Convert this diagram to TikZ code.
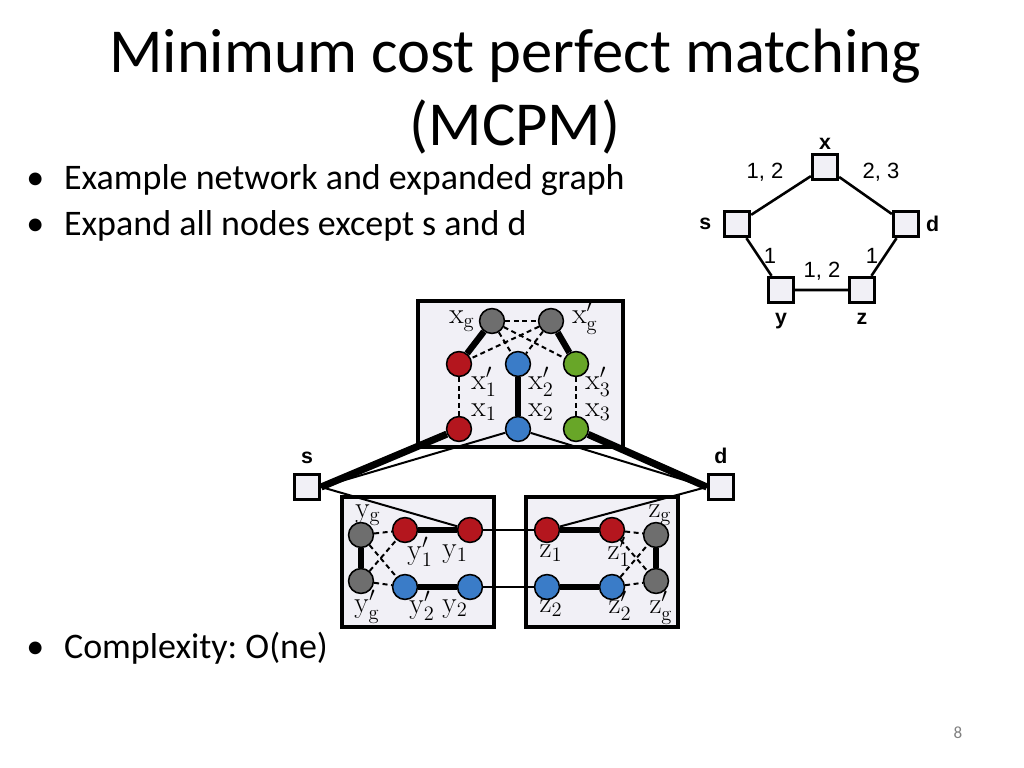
\documentclass[tikz,border=0pt]{standalone}
\usepackage[no-math]{fontspec}
\setmainfont{Carlito}
\newfontfamily\netfont{Liberation Sans}
\usepackage{amsmath}
\usetikzlibrary{positioning}
\frenchspacing
\definecolor{boxfill}{RGB}{241,240,246}
\definecolor{nodered}{RGB}{180,22,30}
\definecolor{nodeblue}{RGB}{58,124,200}
\definecolor{nodegreen}{RGB}{104,166,40}
\definecolor{nodegray}{RGB}{110,110,110}
\tikzstyle{vertex} = [circle, draw=black, line width=1.1pt, minimum size=17.5pt, inner sep=0pt]
\tikzstyle{red} = [vertex, fill=nodered]
\tikzstyle{blue} = [vertex, fill=nodeblue]
\tikzstyle{green} = [vertex, fill=nodegreen]
\tikzstyle{gray} = [vertex, fill=nodegray]
\tikzstyle{hub} = [rectangle, draw=black, line width=1.9pt, fill=boxfill, minimum size=18pt, inner sep=0pt]
\tikzstyle{cluster} = [draw=black, line width=2.2pt, fill=boxfill]
\tikzstyle{heavy} = [line width=4.5pt]
\tikzstyle{light} = [line width=1.4pt]
\tikzstyle{match} = [line width=1.4pt, dash pattern=on 3.5pt off 2.5pt]
\tikzstyle{lab} = [inner sep=0pt, text height=8pt, text depth=2pt, font=\fontsize{20}{23}\selectfont]
\tikzstyle{netlab} = [inner sep=0pt, font=\netfont\fontsize{15.5}{17}\selectfont]
\tikzstyle{netname} = [netlab, font=\netfont\bfseries\fontsize{15}{17}\selectfont]
\tikzstyle{bullet} = [anchor=base west, inner sep=0pt, font=\fontsize{25.3}{29}\selectfont]

\begin{document}
\begin{tikzpicture}[x=0.703125pt, y=-0.703125pt, node distance = 2pt]
	\useasboundingbox (0,0) rectangle (1024,768);
	% title and bullets
	\node (TitleA) [anchor=base, inner sep=0pt, font=\fontsize{44}{50}\selectfont] at (515,73) {Minimum cost perfect matching};
	\node (TitleB) [anchor=base, inner sep=0pt, font=\fontsize{44}{50}\selectfont] at (515,146) {(MCPM)};
	\node (ItemA) [bullet] at (26,190) {\char"2022\hspace{14pt}Example network and expanded graph};
	\node (ItemB) [bullet] at (26,236) {\char"2022\hspace{14pt}Expand all nodes except s and d};
	\node (ItemC) [bullet] at (26,658) {\char"2022\hspace{14pt}Complexity: O(ne)};
	\node (PageNum) [inner sep=0pt, text=gray, font=\fontsize{12}{14}\selectfont] at (958,733) {8};

	% example network
	\node (NetX) [hub] at (825,167) {};
	\node (NetS) [hub] at (737,224) {};
	\node (NetD) [hub] at (906,224) {};
	\node (NetY) [hub] at (781,290) {};
	\node (NetZ) [hub] at (862,290) {};
	\node [netname, above = 2pt of NetX] {x};
	\node [netname, left = 8pt of NetS] {s};
	\node [netname, right = 4pt of NetD] {d};
	\node [netname, below = 6pt of NetY] {y};
	\node [netname, below = 6pt of NetZ] {z};
	\draw [line width=1.8pt] (NetS) -- (NetX) -- (NetD) -- (NetZ) -- (NetY) -- (NetS);
	\node [netlab] at (765,172) {1, 2};
	\node [netlab] at (881,172) {2, 3};
	\node [netlab] at (770,256) {1};
	\node [netlab] at (872,256) {1};
	\node [netlab] at (822,271) {1, 2};

	% expanded graph
	\draw [cluster] (418,301) rectangle (623,447);
	\draw [cluster] (342,497) rectangle (494,627);
	\draw [cluster] (526,497) rectangle (678,627);
	\node (S) [hub] at (307,487) {};
	\node (D) [hub] at (721,487) {};
	\node [netname, above = 6pt of S] {s};
	\node [netname, above = 6pt of D] {d};

	\node (Xg) [gray] at (492,321) {};
	\node (Xgp) [gray] at (551,321) {};
	\node (XOnep) [red] at (459,364) {};
	\node (XTwop) [blue] at (518,364) {};
	\node (XThreep) [green] at (576,364) {};
	\node (XOne) [red] at (459,429) {};
	\node (XTwo) [blue] at (518,429) {};
	\node (XThree) [green] at (576,429) {};

	\node (Yg) [gray] at (361,535) {};
	\node (Ygp) [gray] at (361,581) {};
	\node (YOnep) [red] at (405,530) {};
	\node (YOne) [red] at (470,530) {};
	\node (YTwop) [blue] at (405,587) {};
	\node (YTwo) [blue] at (470,587) {};

	\node (ZOne) [red] at (547,530) {};
	\node (ZOnep) [red] at (612,530) {};
	\node (Zg) [gray] at (656,535) {};
	\node (ZTwo) [blue] at (547,587) {};
	\node (ZTwop) [blue] at (612,587) {};
	\node (Zgp) [gray] at (656,581) {};

	\draw [heavy] (Xg) -- (XOnep);
	\draw [heavy] (Xgp) -- (XThreep);
	\draw [heavy] (XTwop) -- (XTwo);
	\draw [match] (Xg) -- (Xgp);
	\draw [match] (Xg) -- (XTwop);
	\draw [match] (Xg) -- (XThreep);
	\draw [match] (Xgp) -- (XOnep);
	\draw [match] (Xgp) -- (XTwop);
	\draw [match] (XOnep) -- (XOne);
	\draw [match] (XThreep) -- (XThree);

	\draw [heavy] (Yg) -- (Ygp);
	\draw [heavy] (YOnep) -- (YOne);
	\draw [heavy] (YTwop) -- (YTwo);
	\draw [match] (Yg) -- (YOnep);
	\draw [match] (Yg) -- (YTwop);
	\draw [match] (Ygp) -- (YOnep);
	\draw [match] (Ygp) -- (YTwop);

	\draw [heavy] (Zg) -- (Zgp);
	\draw [heavy] (ZOne) -- (ZOnep);
	\draw [heavy] (ZTwo) -- (ZTwop);
	\draw [match] (ZOnep) -- (Zg);
	\draw [match] (ZOnep) -- (Zgp);
	\draw [match] (ZTwop) -- (Zg);
	\draw [match] (ZTwop) -- (Zgp);

	\draw [light] (YOne) -- (ZOne);
	\draw [light] (YTwo) -- (ZTwo);
	\draw [line width=5pt] (S.east) -- (XOne);
	\draw [light] (S.east) -- (XTwo);
	\draw [light] (S.east) -- (YOne);
	\draw [line width=5pt] (D.west) -- (XThree);
	\draw [light] (D.west) -- (XTwo);
	\draw [light] (D.west) -- (ZOne);

	% labels in the expanded graph
	\node [lab] at (462,319) {$\mathrm{x}_{\mathrm{g}}$};
	\node [lab] at (585,319) {$\mathrm{x}_{\mathrm{g}}'$};
	\node [lab] at (484,385) {$\mathrm{x}_1'$};
	\node [lab] at (484,412) {$\mathrm{x}_1$};
	\node [lab] at (541,385) {$\mathrm{x}_2'$};
	\node [lab] at (541,412) {$\mathrm{x}_2$};
	\node [lab] at (598,385) {$\mathrm{x}_3'$};
	\node [lab] at (598,412) {$\mathrm{x}_3$};

	\node [lab] at (368,513) {$\mathrm{y}_{\mathrm{g}}$};
	\node [lab] at (367,608) {$\mathrm{y}_{\mathrm{g}}'$};
	\node [lab] at (420,555) {$\mathrm{y}_1'$};
	\node [lab] at (455,553) {$\mathrm{y}_1$};
	\node [lab] at (422,609) {$\mathrm{y}_2'$};
	\node [lab] at (455,608) {$\mathrm{y}_2$};

	\node [lab] at (660,513) {$\mathrm{z}_{\mathrm{g}}$};
	\node [lab] at (551,553) {$\mathrm{z}_1$};
	\node [lab] at (619,555) {$\mathrm{z}_1'$};
	\node [lab] at (551,608) {$\mathrm{z}_2$};
	\node [lab] at (620,609) {$\mathrm{z}_2'$};
	\node [lab] at (661,609) {$\mathrm{z}_{\mathrm{g}}'$};
\end{tikzpicture}
\end{document}
